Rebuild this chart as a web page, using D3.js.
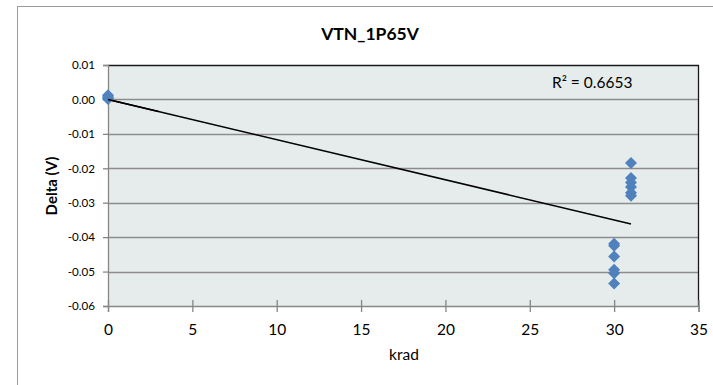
<!DOCTYPE html>
<html>
<head>
<meta charset="utf-8">
<script src="https://cdn.jsdelivr.net/npm/d3@7"></script>
<style>
  html, body { margin: 0; padding: 0; background: #ffffff; }
  svg { display: block; }
  text { font-family: Lato, "Open Sans", "Liberation Sans", sans-serif; fill: #000; }
</style>
</head>
<body>
<svg id="chart" width="713" height="385"></svg>
<script>
// Threshold-voltage shift vs total dose
const chartTitle = "VTN_1P65V";
const xTitle = "krad";
const yTitle = "Delta (V)";
const rSquaredLabel = "R\u00B2 = 0.6653";

const doseKrad = [0, 0, 0, 0,
                  30, 30, 30, 30, 30, 30,
                  31, 31, 31, 31, 31, 31];
const deltaV = [0.0012, 0.0007, 0.0004, 0.0001,
                -0.0419, -0.0425, -0.0456, -0.0495, -0.0505, -0.0535,
                -0.0185, -0.0228, -0.0241, -0.0254, -0.0271, -0.0280];

const xTicks = [0, 5, 10, 15, 20, 25, 30, 35];
const yTicks = [0.01, 0.00, -0.01, -0.02, -0.03, -0.04, -0.05, -0.06];

const svg = d3.select("#chart");
const plot = { left: 108, right: 698.5, top: 65, bottom: 306 };

const x = d3.scaleLinear().domain([0, 35]).range([plot.left, plot.right]);
const y = d3.scaleLinear().domain([-0.06, 0.01]).range([plot.bottom, plot.top]);

// chart frame
svg.append("rect")
  .attr("x", 17.5).attr("y", 6.5)
  .attr("width", 730).attr("height", 400)
  .attr("fill", "#fff").attr("stroke", "#9a9a9a").attr("stroke-width", 1);

// plot background
svg.append("rect")
  .attr("x", plot.left).attr("y", plot.top)
  .attr("width", plot.right - plot.left).attr("height", plot.bottom - plot.top)
  .attr("fill", "#e6ecec");

// horizontal gridlines
svg.append("g")
  .selectAll("line")
  .data(yTicks.filter(t => t !== 0.01 && t !== -0.06))
  .join("line")
  .attr("x1", plot.left).attr("x2", plot.right)
  .attr("y1", d => Math.round(y(d)) + 0.5).attr("y2", d => Math.round(y(d)) + 0.5)
  .attr("stroke", "#8c8c8c").attr("stroke-width", 1.3);

// top and right frame of plot area
svg.append("path")
  .attr("d", `M${plot.left},${plot.top + 0.5}H${plot.right}V${plot.bottom}`)
  .attr("fill", "none").attr("stroke", "#1a1a1a").attr("stroke-width", 1.3);

// y axis
const yAxis = d3.axisLeft(y)
  .tickValues(yTicks)
  .tickSize(5)
  .tickPadding(8)
  .tickFormat(d3.format(".2f"));
const gy = svg.append("g")
  .attr("transform", `translate(${plot.left},0)`)
  .call(yAxis);
gy.select(".domain").attr("stroke", "#868686").attr("stroke-width", 1.3);
gy.selectAll(".tick line").attr("stroke", "#868686").attr("stroke-width", 1.3);
gy.selectAll(".tick text")
  .style("font-size", "11.6px")
  .attr("fill", "#000")
  .text(d => d3.format(".2f")(d).replace("\u2212", "-"));

// x axis
const xAxis = d3.axisBottom(x)
  .tickValues(xTicks)
  .tickSize(6)
  .tickFormat(d3.format("d"));
const gx = svg.append("g")
  .attr("transform", `translate(0,${plot.bottom})`)
  .call(xAxis);
gx.select(".domain").attr("stroke", "#868686").attr("stroke-width", 1.3);
gx.selectAll(".tick line").attr("y1", -6).attr("stroke", "#868686").attr("stroke-width", 1.3);
gx.selectAll(".tick text")
  .attr("y", 29).attr("dy", null)
  .style("font-size", "15.5px").attr("fill", "#000");

// linear least-squares trendline
const n = doseKrad.length;
const mx = d3.mean(doseKrad), my = d3.mean(deltaV);
let sxy = 0, sxx = 0;
for (let i = 0; i < n; i++) {
  sxy += (doseKrad[i] - mx) * (deltaV[i] - my);
  sxx += (doseKrad[i] - mx) ** 2;
}
const slope = sxy / sxx;
const intercept = my - slope * mx;
const xExtent = d3.extent(doseKrad);
const fit = v => intercept + slope * v;

svg.append("line")
  .attr("x1", x(xExtent[0])).attr("y1", y(fit(xExtent[0])))
  .attr("x2", x(xExtent[1])).attr("y2", y(fit(xExtent[1])))
  .attr("stroke", "#000").attr("stroke-width", 1.5);

// diamond markers
const half = 6;
svg.append("g")
  .selectAll("path")
  .data(doseKrad.map((d, i) => [d, deltaV[i]]))
  .join("path")
  .attr("d", d => {
    const cx = x(d[0]), cy = y(d[1]);
    return `M${cx},${cy - half}L${cx + half},${cy}L${cx},${cy + half}L${cx - half},${cy}Z`;
  })
  .attr("fill", "#4f81bd");

// trendline start drawn again above the markers at zero dose
svg.append("line")
  .attr("x1", x(xExtent[0])).attr("y1", y(fit(xExtent[0])))
  .attr("x2", x(3)).attr("y2", y(fit(3)))
  .attr("stroke", "#000").attr("stroke-width", 1.5);

// titles
svg.append("text")
  .attr("x", 370).attr("y", 40)
  .attr("text-anchor", "middle")
  .style("font-size", "17.5px").style("font-weight", "bold")
  .text(chartTitle);

svg.append("text")
  .attr("x", 404).attr("y", 360)
  .attr("text-anchor", "middle")
  .style("font-size", "15.5px")
  .text(xTitle);

svg.append("text")
  .attr("transform", "translate(57,186) rotate(-90)")
  .attr("text-anchor", "middle")
  .style("font-size", "15px").style("font-weight", "bold")
  .text(yTitle);

// R² annotation
svg.append("text")
  .attr("x", 552).attr("y", 88)
  .style("font-size", "15.5px")
  .text(rSquaredLabel);
</script>
</body>
</html>
